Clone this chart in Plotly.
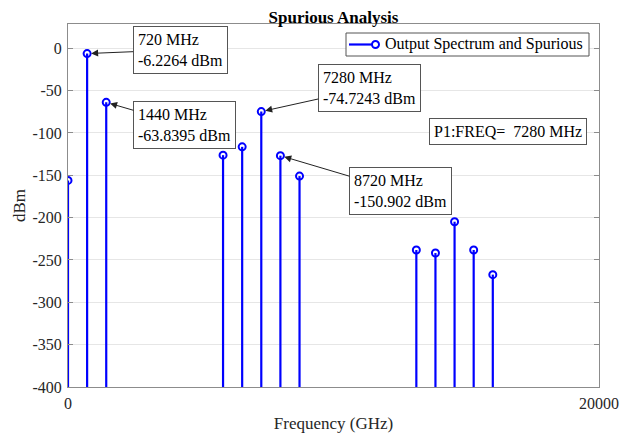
import plotly.graph_objects as go

# ---- data ----
freqs_mhz = [0, 720, 1440, 5840, 6560, 7280, 8000, 8720, 13120, 13840, 14560, 15280, 16000]
power_dbm = [-156.0, -6.2264, -63.8395, -126.2, -116.4, -74.7243, -126.8, -150.902,
             -238.2, -241.8, -204.8, -238.2, -267.3]
base_dbm = -400
series_name = "Output Spectrum and Spurious"
p1_freq = 7280

# annotation labels: (label freq, label power, index of point the arrow targets)
ann_points = [
    (720, -6.2264, 1),
    (1440, -63.8395, 2),
    (7280, -74.7243, 5),
    (8720, -150.902, 6),
]
# box centers in data coords
ann_box = [(4225, -1.7), (4387, -90.8), (11350, -46.5), (12525, -169)]

x_ticks = [0, 20000]
y_ticks = [0, -50, -100, -150, -200, -250, -300, -350, -400]

FONT = "Liberation Serif, Times New Roman, serif"
BLUE = "#0000ff"
BOX = "#555555"

# page has an 8px body margin: figure is sized/margined to compensate
W, H = 626, 430
ML, MR, MT, MB = 60, 35, 16, 51
PW, PH = W - ML - MR, H - MT - MB


def px(fx):  # figure pixel x -> paper
    return (fx - ML) / PW


def py(fy):  # figure pixel y -> paper
    return (H - MB - fy) / PH


# stems
sx, sy = [], []
for f, p in zip(freqs_mhz, power_dbm):
    sx += [f, f, None]
    sy += [base_dbm, p, None]

fig = go.Figure()
fig.add_trace(go.Scatter(x=sx, y=sy, mode="lines", line=dict(color=BLUE, width=2.2),
                         showlegend=False, hoverinfo="skip"))
fig.add_trace(go.Scatter(x=freqs_mhz, y=power_dbm, mode="markers", name=series_name,
                         marker=dict(symbol="circle-open", size=7, color=BLUE,
                                     line=dict(width=2, color=BLUE)),
                         showlegend=False))

annotations = []
for (lf, lp, idx), (bx, by) in zip(ann_points, ann_box):
    annotations.append(dict(
        x=freqs_mhz[idx], y=power_dbm[idx], xref="x", yref="y",
        ax=bx, ay=by, axref="x", ayref="y",
        text=f"{lf} MHz<br>{lp} dBm", align="left",
        font=dict(family=FONT, size=16, color="black"),
        showarrow=True, arrowhead=2, arrowsize=1.4, arrowwidth=1, arrowcolor="#222222",
        standoff=4, bordercolor=BOX, borderwidth=1, borderpad=4, bgcolor="white",
    ))
annotations.append(dict(
    x=px((420 + 579) / 2), y=py(123), xref="paper", yref="paper",
    xanchor="center", yanchor="middle",
    text=f"P1:FREQ=  {p1_freq} MHz", showarrow=False,
    font=dict(family=FONT, size=16, color="black"),
    bordercolor=BOX, borderwidth=1, borderpad=4, bgcolor="white",
))

# manual legend (box, line sample, circle marker, text)
lg_x0, lg_x1, lg_y0, lg_y1 = 338, 581, 25, 48
lg_yc = (lg_y0 + lg_y1) / 2
shapes = [
    dict(type="rect", xref="paper", yref="paper", x0=px(lg_x0), x1=px(lg_x1),
         y0=py(lg_y1), y1=py(lg_y0), line=dict(color=BOX, width=1),
         fillcolor="white", layer="above"),
    dict(type="line", xref="paper", yref="paper", x0=px(341), x1=px(371),
         y0=py(lg_yc), y1=py(lg_yc), line=dict(color=BLUE, width=2.2), layer="above"),
    dict(type="circle", xref="paper", yref="paper", xsizemode="pixel", ysizemode="pixel",
         xanchor=px(367.5), yanchor=py(lg_yc), x0=-3.5, x1=3.5, y0=-3.5, y1=3.5,
         line=dict(color=BLUE, width=2), fillcolor="white", layer="above"),
]
annotations.append(dict(
    x=px(lg_x1 - 4), y=py(lg_yc), xref="paper", yref="paper", xanchor="right",
    yanchor="middle", text=series_name, showarrow=False,
    font=dict(family=FONT, size=16, color="black"),
))

fig.update_layout(
    width=W, height=H,
    margin=dict(l=ML, r=MR, t=MT, b=MB, autoexpand=False),
    paper_bgcolor="white", plot_bgcolor="white",
    font=dict(family=FONT, size=15, color="#262626"),
    showlegend=False,
    title=dict(text="<b>Spurious Analysis</b>", x=325.5 / W,
               xanchor="center", xref="container", y=1 - 3 / H, yref="container",
               yanchor="top", pad=dict(t=0, b=0),
               font=dict(family=FONT, size=17, color="black")),
    xaxis=dict(range=[0, 20000], tickvals=x_ticks, ticktext=[str(v) for v in x_ticks],
               automargin=False,
               showgrid=False, zeroline=False, showline=True, linecolor="#8c8c8c",
               linewidth=1, mirror=True, ticks="inside", ticklen=5, tickcolor="#8c8c8c",
               ticklabelstandoff=2,
               title=dict(text="Frequency (GHz)", font=dict(family=FONT, size=17, color="#262626"),
                          standoff=5),
               tickfont=dict(family=FONT, size=16, color="#262626")),
    yaxis=dict(range=[-400, 28.7], tickvals=y_ticks, ticktext=[str(v) for v in y_ticks],
               automargin=False,
               showgrid=True, gridcolor="#e6e6e6", gridwidth=1, zeroline=False,
               showline=True, linecolor="#8c8c8c", linewidth=1, mirror="ticks",
               ticks="inside", ticklen=5, tickcolor="#8c8c8c",
               ticklabelstandoff=2,
               title=dict(text="dBm", font=dict(family=FONT, size=17, color="#262626"),
                          standoff=2),
               tickfont=dict(family=FONT, size=16, color="#262626")),
    shapes=shapes,
    annotations=annotations,
)

fig.write_html("out.html")
